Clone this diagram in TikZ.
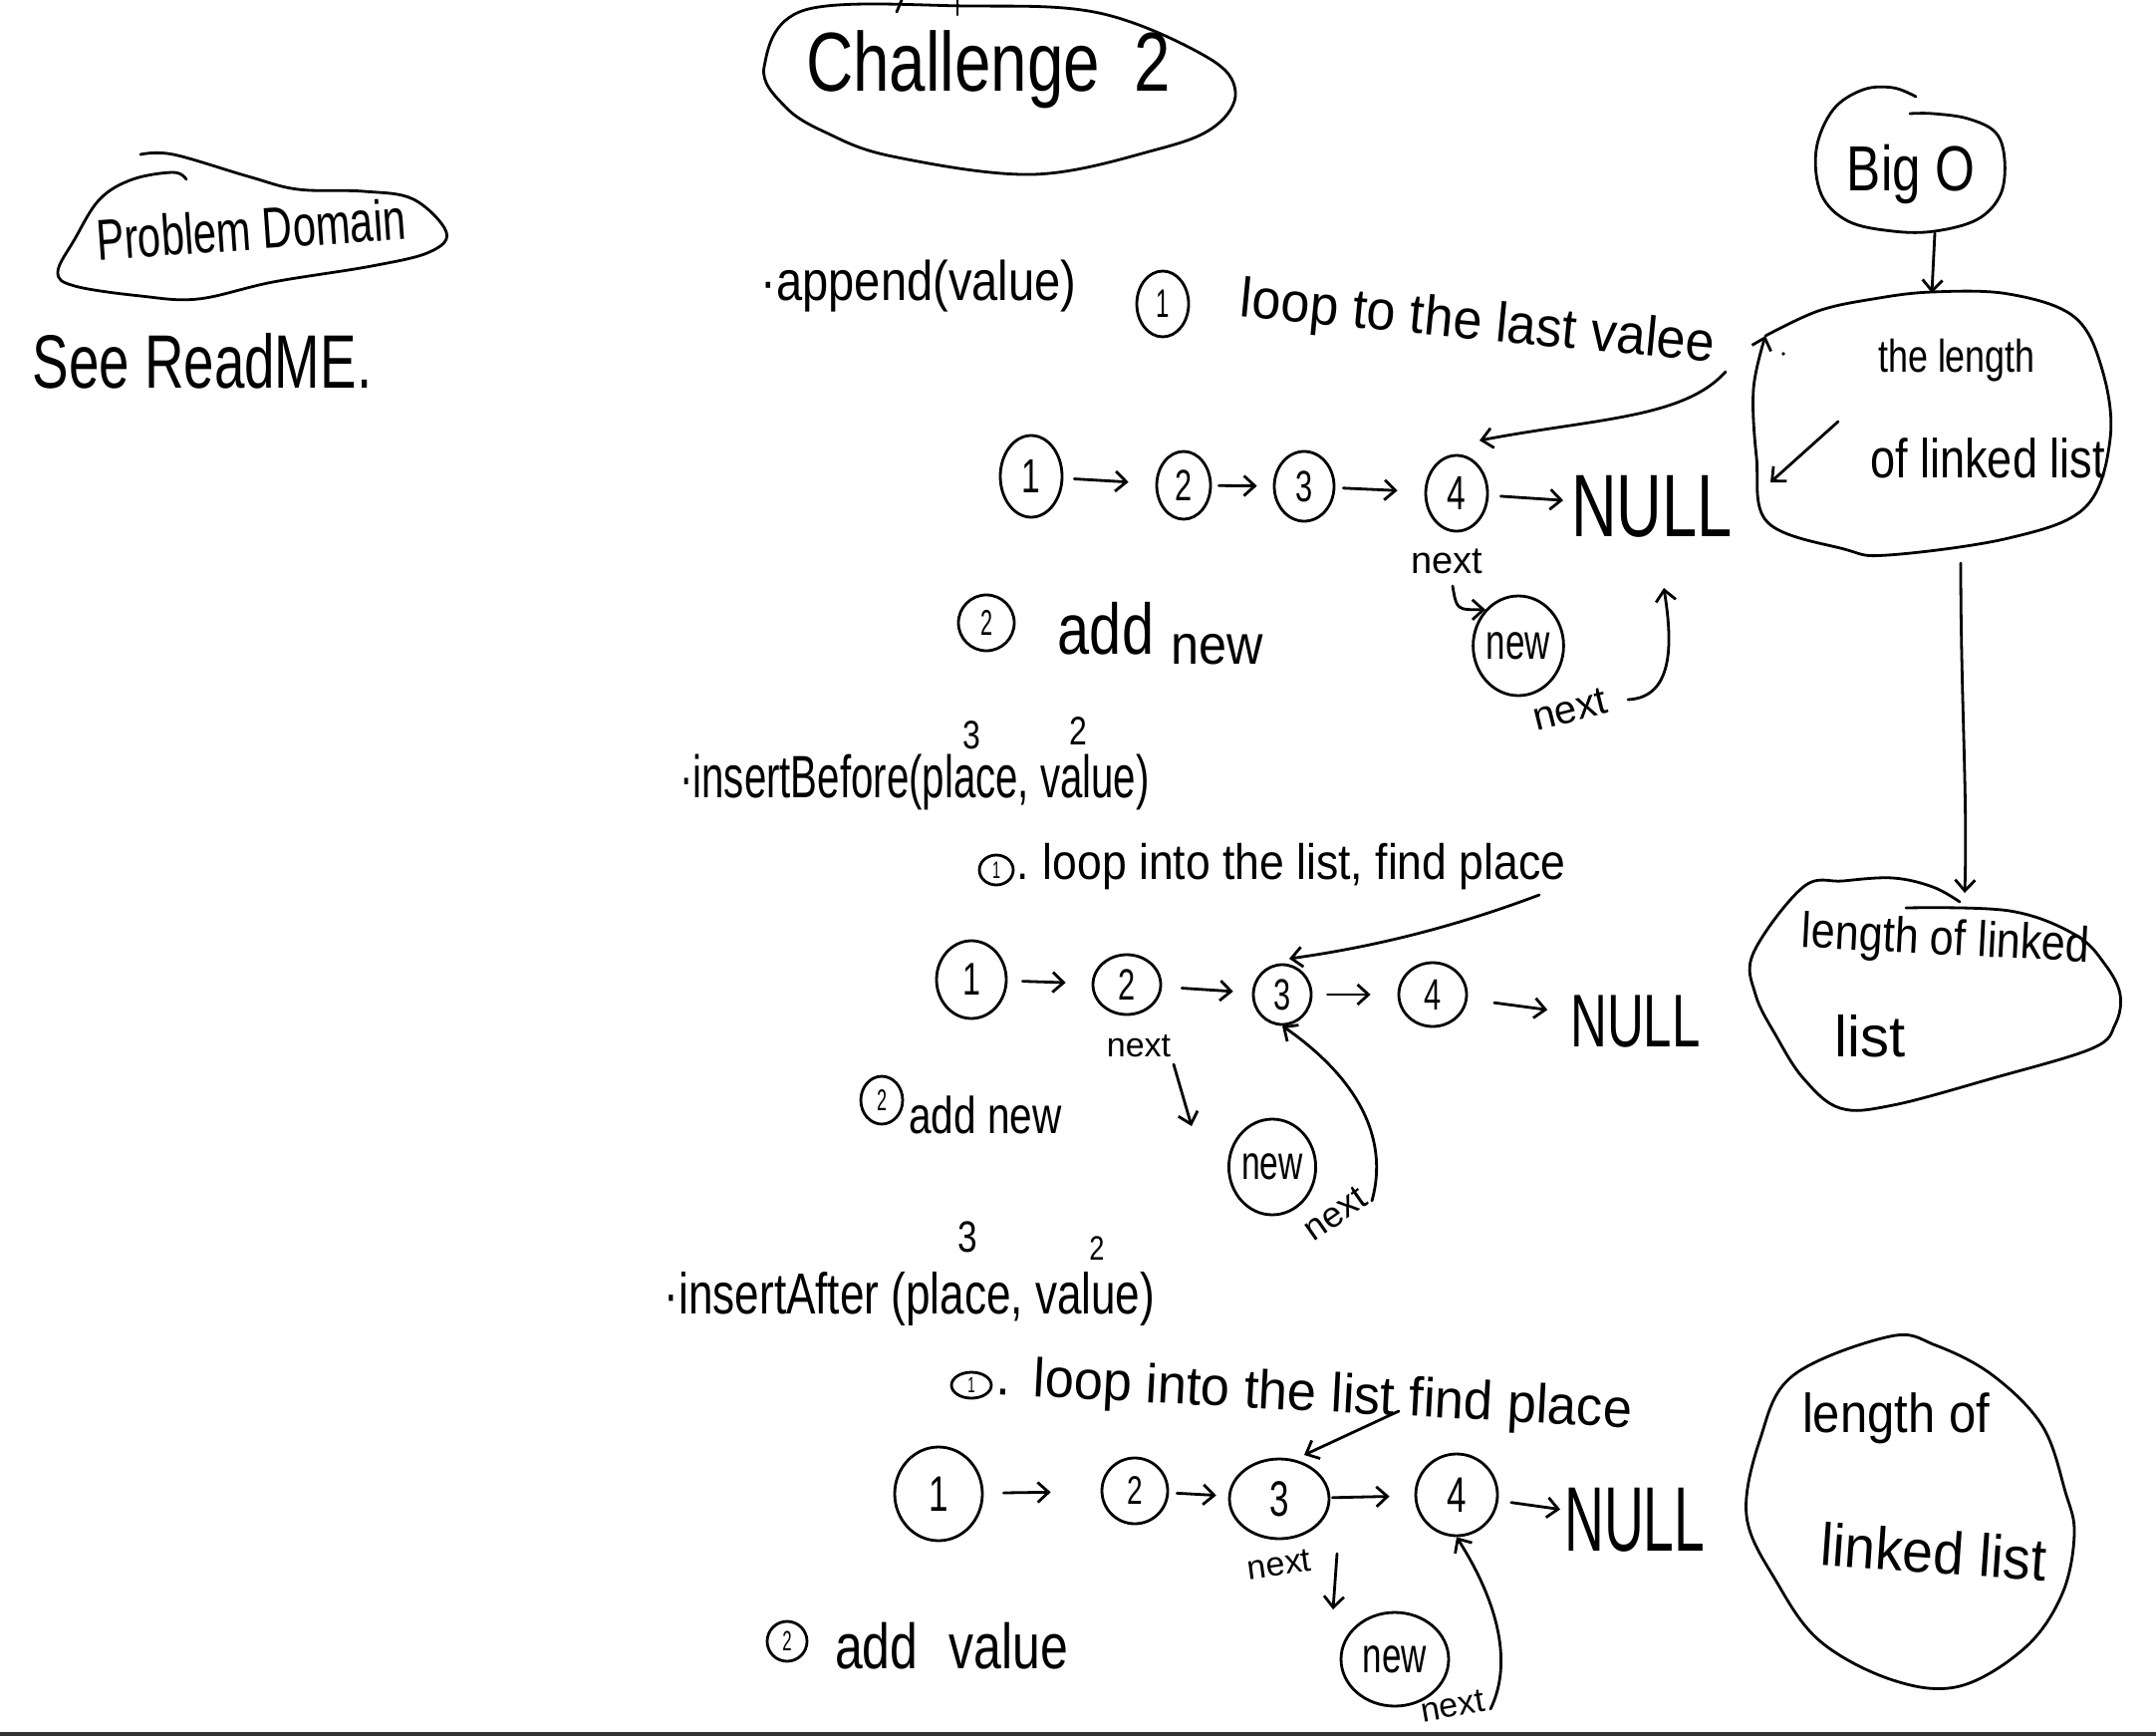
\documentclass[tikz,border=0pt]{standalone}
\usepackage{fontspec}
\usepackage{graphicx}
\setmainfont{Liberation Sans}
\usetikzlibrary{arrows.meta,shapes.geometric}
\newcommand{\hw}[3]{\scalebox{#2}[1]{\fontsize{#1}{#1}\selectfont #3}}
\tikzset{
  ln/.style={line width=2.8pt, line cap=round, line join=round},
  harr/.style={ln, -{Straight Barb[length=11pt,width=20pt]}},
  num/.style={draw, ln, ellipse, inner sep=0pt},
  txt/.style={inner sep=0pt},
  blob/.style={ln, smooth, tension=0.6}
}
\begin{document}
\begin{tikzpicture}[x=1pt,y=-1pt]
\useasboundingbox (0,0) rectangle (2164,1742);
\fill[white] (0,0) rectangle (2164,1742);
\fill[black!80] (0,1738) rectangle (2164,1742);

% ---------- Challenge 2 ----------
\draw[ln] plot[smooth cycle, tension=0.6] coordinates {(808,10) (970,6) (1103,13) (1211,57) (1240,92) (1219,127) (1161,150) (1037,175) (896,157) (829,133) (788,107) (767,67)};
\node[txt] (title) at (992,70) {\hw{84}{0.78}{Challenge\hspace{44pt}2}};
\draw[ln] (900,12) -- (905,0);
\draw[ln] (961,0) -- (961,15);

% ---------- Problem Domain ----------
\draw[blob] plot coordinates {(141,155) (174,155) (249,177) (299,190) (365,192) (415,200) (448,233) (431,253) (373,267) (274,283) (199,300) (141,297) (75,287) (58,273) (75,240) (100,200) (133,180) (174,173) (187,180)};
\node[txt, rotate=4] (pd) at (252,230) {\hw{58}{0.72}{Problem Domain}};
\node[txt] (see) at (203,362) {\hw{76}{0.72}{See ReadME.}};

% ---------- append ----------
\node[txt] (app) at (922,287) {\hw{56}{0.84}{·append(value)}};
\node[num, minimum width=52pt, minimum height=66pt] (s1a) at (1167,305) {\hw{40}{0.6}{1}};
\node[txt, rotate=-5.5] (loop1) at (1483,326) {\hw{56}{0.93}{loop to the last valee}};

\node[num, minimum width=62pt, minimum height=82pt] (a1) at (1035,478) {\hw{48}{0.7}{1}};
\node[num, minimum width=54pt, minimum height=68pt] (a2) at (1188,487) {\hw{44}{0.7}{2}};
\node[num, minimum width=60pt, minimum height=70pt] (a3) at (1309,488) {\hw{44}{0.7}{3}};
\node[num, minimum width=62pt, minimum height=76pt] (a4) at (1462,495) {\hw{48}{0.7}{4}};
\node[txt, anchor=west] (null1) at (1577,508) {\hw{89}{0.71}{NULL}};
\draw[harr, shorten <=11pt, shorten >=27pt] (a1) -- (a2);
\draw[harr, shorten <=7pt, shorten >=16pt] (a2) -- (a3);
\draw[harr, shorten <=8pt, shorten >=27pt] (a3) -- (a4);
\draw[harr, shorten <=12pt, shorten >=8pt] (a4) -- (null1);

\coordinate (v1) at (1732,373);
\coordinate (v1t) at (1485,442);
\draw[harr] (v1) .. controls (1690,420) and (1600,420) .. (v1t);

\node[txt] (nx1) at (1452,563) {\hw{38}{1}{next}};
\node[num, minimum width=88pt, minimum height=100pt] (new1) at (1524,648) {\hw{50}{0.7}{new}};
\coordinate (nx1s) at (1458,588);
\draw[harr] (nx1s) .. controls (1462,612) .. (new1.north west);
\coordinate (nb1) at (1634,702);
\coordinate (nb1t) at (1670,590);
\draw[harr] (nb1) .. controls (1682,700) and (1678,640) .. (nb1t);
\node[txt, rotate=14] (nx1b) at (1576,712) {\hw{40}{1}{next}};

\node[num, minimum width=56pt, minimum height=56pt] (s2a) at (990,625) {\hw{36}{0.6}{2}};
\node[txt, anchor=base] (add1) at (1110,656) {\hw{72}{0.8}{add}};
\node[txt, anchor=base] (addnew1) at (1222,666) {\hw{56}{0.9}{new}};

% ---------- Big O / right column ----------
\draw[blob] plot coordinates {(1923,97) (1900,88) (1870,90) (1840,110) (1823,150) (1828,195) (1855,222) (1900,232) (1942,232) (1985,220) (2008,195) (2012,160) (2003,133) (1975,119) (1940,114) (1917,114)};
\node[txt] (bigo) at (1918,175) {\hw{64}{0.8}{Big O}};
\coordinate (bigob) at (1942,234);
\coordinate (len1t) at (1939,294);
\draw[harr] (bigob) -- (len1t);

\draw[blob, -{Straight Barb[length=11pt,width=20pt]}] plot coordinates {(1772,337) (1825,312) (1880,300) (1939,293) (2016,295) (2082,318) (2110,371) (2118,440) (2093,509) (2016,540) (1895,557) (1851,551) (1774,524) (1763,459) (1760,390) (1772,337)};
\fill (1790,355) circle (1.8pt);
\node[txt] (len1a) at (1964,362) {\hw{46}{0.78}{the length}};
\node[txt] (len1b) at (1995,460) {\hw{55}{0.82}{of linked list}};
\coordinate (in1) at (1845,423);
\coordinate (in1t) at (1777,484);
\draw[harr] (in1) -- (in1t);

\coordinate (len1bot) at (1968,565);
\coordinate (len2t) at (1972,896);
\draw[harr] (len1bot) .. controls (1968,700) and (1975,800) .. (len2t);

\draw[blob] plot coordinates {(1967,905) (1940,890) (1900,881) (1850,884) (1810,890) (1760,956) (1762,998) (1783,1040) (1810,1082) (1847,1112) (1900,1109) (2000,1082) (2100,1052) (2123,1028) (2128,998) (2113,968) (2083,938) (2017,914) (1913,911)};
\node[txt, rotate=-3] (len2a) at (1953,945) {\hw{50}{0.86}{length of linked}};
\node[txt] (len2b) at (1877,1040) {\hw{58}{1}{list}};

\draw[ln] plot[smooth cycle, tension=0.6] coordinates {(1897,1341) (1800,1380) (1767,1443) (1753,1521) (1783,1587) (1827,1647) (1900,1686) (1967,1692) (2033,1653) (2070,1599) (2082,1539) (2073,1497) (2050,1431) (2000,1380) (1943,1350)};
\node[txt] (len3a) at (1903,1423) {\hw{55}{0.89}{length of}};
\node[txt, rotate=-4] (len3b) at (1941,1557) {\hw{60}{0.92}{linked list}};

% ---------- insertBefore ----------
\node[txt] (ib) at (918,785) {\hw{60}{0.67}{·insertBefore(place, value)}};
\node[txt] (ib3) at (975,738) {\hw{40}{0.8}{3}};
\node[txt] (ib2) at (1082,734) {\hw{40}{0.8}{2}};
\node[num, minimum width=34pt, minimum height=30pt] (s1b) at (1000,873) {\hw{24}{0.6}{1}};
\node[txt, anchor=west] (loop2) at (1020,870) {\hw{50}{0.89}{.\hspace{16pt}loop into the list, find place}};

\node[num, minimum width=70pt, minimum height=78pt] (b1) at (975,983) {\hw{46}{0.7}{1}};
\node[num, minimum width=68pt, minimum height=60pt] (b2) at (1131,988) {\hw{44}{0.7}{2}};
\node[num, minimum width=58pt, minimum height=60pt] (b3) at (1287,998) {\hw{44}{0.7}{3}};
\node[num, minimum width=68pt, minimum height=64pt] (b4) at (1438,998) {\hw{44}{0.7}{4}};
\node[txt, anchor=west] (null2) at (1576,1025) {\hw{75}{0.68}{NULL}};
\draw[harr, shorten <=15pt, shorten >=26pt] (b1) -- (b2);
\draw[harr, shorten <=20pt, shorten >=19pt] (b2) -- (b3);
\draw[harr, shorten <=15pt, shorten >=27pt] (b3) -- (b4);
\draw[harr, shorten <=27pt, shorten >=23pt] (b4) -- (null2);

\coordinate (pl2) at (1545,898);
\coordinate (pl2t) at (1294,962);
\draw[harr] (pl2) .. controls (1460,930) and (1380,950) .. (pl2t);

\node[txt] (nx2) at (1143,1050) {\hw{34}{1}{next}};
\coordinate (nx2a) at (1178,1068);
\coordinate (nx2b) at (1196,1130);
\draw[harr] (nx2a) -- (nx2b);
\node[num, minimum width=42pt, minimum height=48pt] (s2b) at (885,1104) {\hw{30}{0.6}{2}};
\node[txt, anchor=west] (add2) at (912,1119) {\hw{52}{0.78}{add new}};
\node[num, minimum width=84pt, minimum height=96pt] (new2) at (1277,1171) {\hw{48}{0.7}{new}};
\node[txt, rotate=35] (nx2c) at (1340,1218) {\hw{36}{1}{next}};
\coordinate (nb2) at (1377,1205);
\draw[harr] (nb2) .. controls (1395,1140) and (1360,1080) .. (b3.south);

% ---------- insertAfter ----------
\node[txt] (ia) at (913,1303) {\hw{58}{0.76}{·insertAfter (place, value)}};
\node[txt] (ia3) at (971,1241) {\hw{44}{0.8}{3}};
\node[txt] (ia2) at (1101,1253) {\hw{34}{0.8}{2}};
\node[num, minimum width=40pt, minimum height=26pt] (s1c) at (975,1390) {\hw{22}{0.6}{1}};
\node[txt, anchor=west, rotate=-3] (loop3) at (1000,1385) {\hw{55}{0.95}{.\hspace{24pt}loop into the list find place}};

\node[num, minimum width=88pt, minimum height=94pt] (c1) at (942,1499) {\hw{50}{0.7}{1}};
\node[num, minimum width=66pt, minimum height=66pt] (c2) at (1139,1496) {\hw{40}{0.7}{2}};
\node[num, minimum width=100pt, minimum height=80pt] (c3) at (1284,1504) {\hw{50}{0.7}{3}};
\node[num, minimum width=82pt, minimum height=82pt] (c4) at (1462,1500) {\hw{50}{0.7}{4}};
\node[txt, anchor=west] (null3) at (1570,1525) {\hw{92}{0.6}{NULL}};
\draw[harr, shorten <=20pt, shorten >=50pt] (c1) -- (c2);
\draw[harr, shorten <=8pt, shorten >=12pt] (c2) -- (c3);
\draw[harr, shorten <=2pt, shorten >=25pt] (c3) -- (c4);
\draw[harr, shorten <=13pt, shorten >=4pt] (c4) -- (null3);

\coordinate (pl3) at (1404,1416);
\coordinate (pl3t) at (1309,1460);
\draw[harr] (pl3) -- (pl3t);

\node[txt, rotate=8] (nx3) at (1284,1570) {\hw{34}{1}{next}};
\coordinate (nx3a) at (1342,1559);
\coordinate (nx3b) at (1338,1615);
\draw[harr] (nx3a) -- (nx3b);
\node[num, minimum width=40pt, minimum height=40pt] (s2c) at (790,1647) {\hw{28}{0.6}{2}};
\node[txt, anchor=west] (add3) at (838,1652) {\hw{64}{0.78}{add\hspace{40pt}value}};
\node[num, minimum width=108pt, minimum height=94pt] (new3) at (1400,1665) {\hw{50}{0.7}{new}};
\node[txt, rotate=10] (nx3c) at (1458,1712) {\hw{34}{1}{next}};
\coordinate (nb3) at (1496,1715);
\draw[harr] (nb3) .. controls (1518,1670) and (1505,1610) .. (c4.south);
\end{tikzpicture}
\end{document}
